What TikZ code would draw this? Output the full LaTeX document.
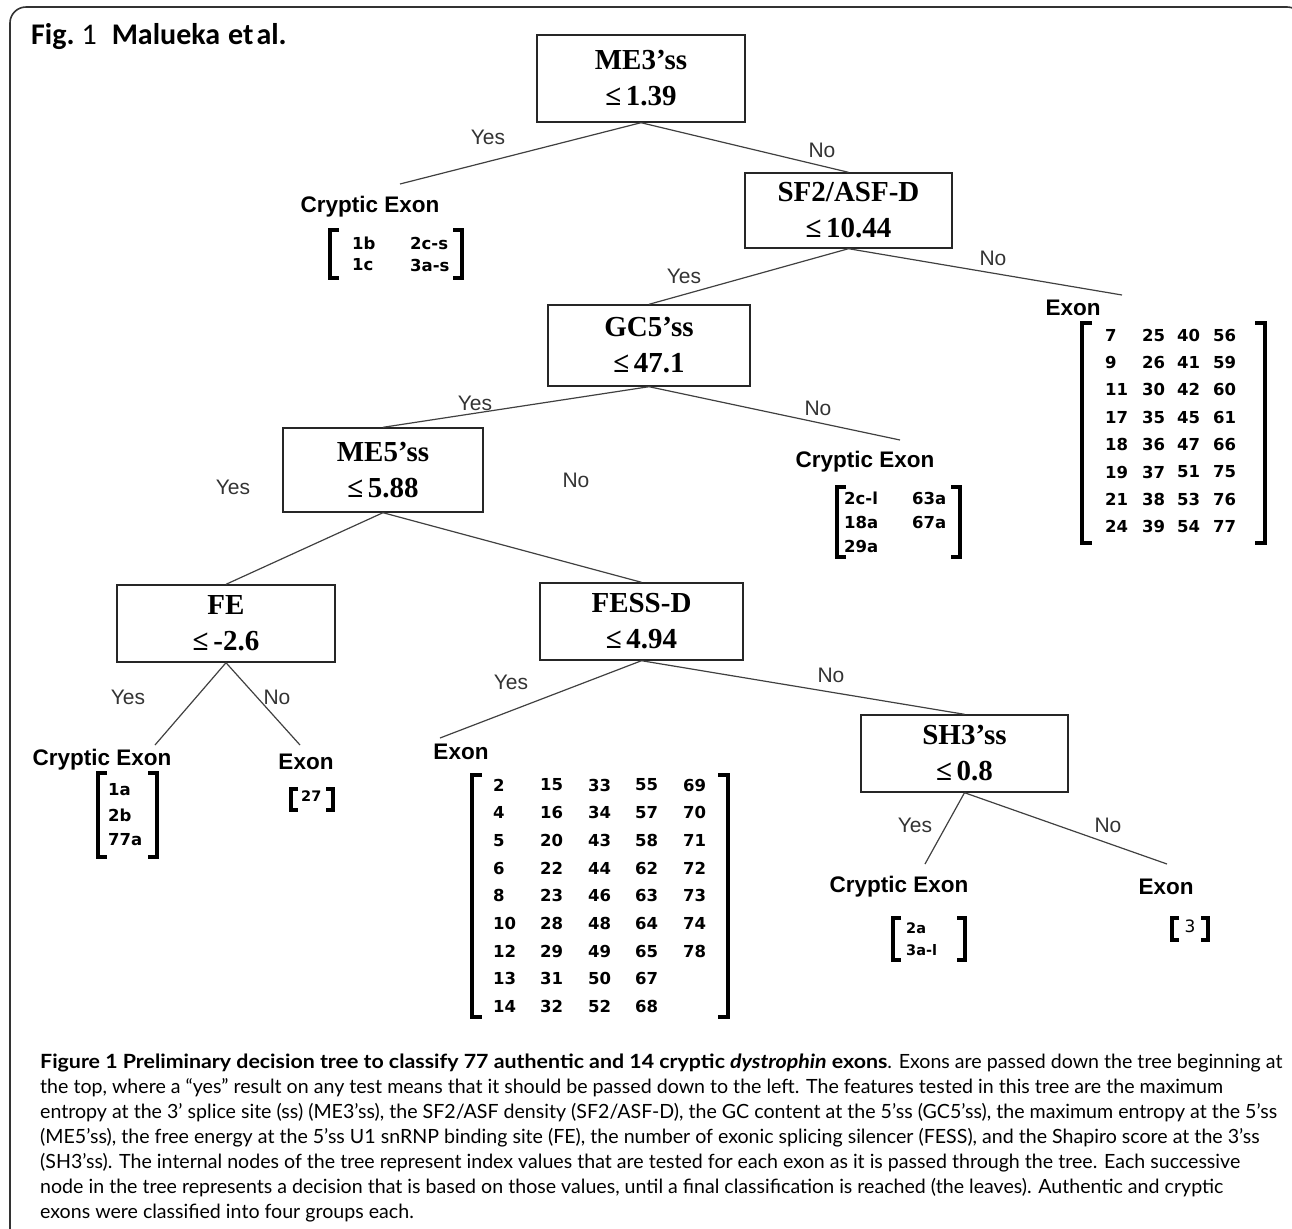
\documentclass[tikz,border=0pt]{standalone}
\usepackage{fontspec}
\usepackage{graphicx}
\setmainfont{Liberation Sans}
\newfontfamily\tnr{Liberation Serif}
\newfontfamily\numf{DejaVu Sans}
\newfontfamily\calib{Carlito}
\newfontfamily\capf{Lato}
\newcommand\mybrk[5]{% x1 y1 x2 y2 tick
  \draw[brk] (#1+#5,#2) -- (#1,#2) -- (#1,#4) -- (#1+#5,#4);
  \draw[brk] (#3-#5,#2) -- (#3,#2) -- (#3,#4) -- (#3-#5,#4);}
\tikzset{
  test/.style={draw=black!85, line width=1.4bp, inner sep=0pt, align=center,
    font=\tnr\bfseries\fontsize{29bp}{36bp}\selectfont},
  conn/.style={draw=black!75, line width=1.2bp},
  yn/.style={font=\fontsize{21bp}{25bp}\selectfont, text=black!80, inner sep=0pt},
  leaf/.style={font=\bfseries\fontsize{22.5bp}{27bp}\selectfont, inner sep=0pt},
  num/.style={font=\numf\bfseries\fontsize{16.5bp}{20bp}\selectfont, inner sep=0pt, anchor=west},
  smallnum/.style={font=\numf\bfseries\fontsize{14.5bp}{18bp}\selectfont, inner sep=0pt, anchor=west},
  brk/.style={line width=3.5bp, line cap=butt, line join=miter},
  capline/.style={anchor=base west, inner sep=0pt, font=\capf\fontsize{19.6bp}{22bp}\selectfont},
  frame/.style={draw=black!80, line width=1.6bp}
}
\begin{document}
\begin{tikzpicture}[x=1bp,y=-1bp]
\useasboundingbox (0,0) rectangle (1292,1229);
\begin{scope}
\clip (0,0) rectangle (1292,1229);
\draw[frame, rounded corners=16bp] (10,7) rectangle (1303,1260);
\end{scope}

% header
\node[anchor=west, inner sep=0pt, font=\calib\fontsize{30bp}{33bp}\selectfont] (hdr) at (31,37)
  {\textbf{Fig.}\hspace{7bp}1\hspace{15bp}\textbf{Malueka}\hspace{8bp}\textbf{et\hspace{3bp}al.}};

% test nodes
\node[test, minimum width=208bp, minimum height=87bp] (me3) at (641,78.5) {ME3’ss\\≤\,1.39};
\node[test, minimum width=207bp, minimum height=75bp] (sf2) at (848.5,210.5) {SF2/ASF-D\\≤\,10.44};
\node[test, minimum width=202bp, minimum height=81bp] (gc5) at (649,345.5) {GC5’ss\\≤\,47.1};
\node[test, minimum width=200bp, minimum height=84bp] (me5) at (383,470) {ME5’ss\\≤\,5.88};
\node[test, minimum width=218bp, minimum height=77bp] (fe) at (226,623.5) {FE\\≤\,-2.6};
\node[test, minimum width=203bp, minimum height=77bp] (fess) at (641.5,621.5) {FESS-D\\≤\,4.94};
\node[test, minimum width=207bp, minimum height=77bp] (sh3) at (964.5,753.5) {SH3’ss\\≤\,0.8};

% free ends
\coordinate (e1) at (400,184);
\coordinate (e2) at (1122,295);
\coordinate (e3) at (900,440);
\coordinate (e4) at (155,745);
\coordinate (e5) at (300,745);
\coordinate (e6) at (440,738);
\coordinate (e7) at (925,864);
\coordinate (e8) at (1167,864);

% connectors
\draw[conn] (me3.south) -- (e1);
\draw[conn] (me3.south) -- (sf2.north);
\draw[conn] (sf2.south) -- (gc5.north);
\draw[conn] (sf2.south) -- (e2);
\draw[conn] (gc5.south) -- (me5.north);
\draw[conn] (gc5.south) -- (e3);
\draw[conn] (me5.south) -- (fe.north);
\draw[conn] (me5.south) -- (fess.north);
\draw[conn] (fe.south) -- (e4);
\draw[conn] (fe.south) -- (e5);
\draw[conn] (fess.south) -- (e6);
\draw[conn] (fess.south) -- (sh3.north);
\draw[conn] (sh3.south) -- (e7);
\draw[conn] (sh3.south) -- (e8);

% yes/no labels
\node[yn] (y1) at (488,137) {Yes};
\node[yn] (n1) at (822,150) {No};
\node[yn] (y2) at (684,276) {Yes};
\node[yn] (n2) at (993,258) {No};
\node[yn] (y3) at (475,403) {Yes};
\node[yn] (n3) at (818,408) {No};
\node[yn] (y4) at (233,487) {Yes};
\node[yn] (n4) at (576,480) {No};
\node[yn] (y5) at (128,697) {Yes};
\node[yn] (n5) at (277,697) {No};
\node[yn] (y6) at (511,682) {Yes};
\node[yn] (n6) at (831,675) {No};
\node[yn] (y7) at (915,825) {Yes};
\node[yn] (n7) at (1108,825) {No};

% leaf 1: ME3 yes
\node[leaf] (l1) at (370,207) {Cryptic Exon};
\mybrk{330}{230}{462}{278}{9}
\node[num] (l1a) at (352,243) {1b};
\node[num] (l1b) at (410,243) {2c-s};
\node[num] (l1c) at (352,265) {1c};
\node[num] (l1d) at (410,265) {3a-s};

% leaf 2: SF2 no
\node[leaf] (l2) at (1073,308) {Exon};
\mybrk{1082}{323}{1265}{543}{10}
\foreach \row [count=\i from 0] in {{7,25,40,56},{9,26,41,59},{11,30,42,60},{17,35,45,61},{18,36,47,66},{19,37,51,75},{21,38,53,76},{24,39,54,77}} {
  \foreach \v [count=\j from 0] in \row {
    \pgfmathsetmacro{\xx}{{1105,1142,1177,1213}[\j]}
    \node[num] (l2r\i c\j) at (\xx,335+27.4*\i) {\v};
  }
}

% leaf 3: GC5 no
\node[leaf] (l3) at (865,462) {Cryptic Exon};
\mybrk{837}{487}{960}{557}{9}
\node[num] (l3a) at (844,498) {2c-l};
\node[num] (l3b) at (912,498) {63a};
\node[num] (l3c) at (844,522) {18a};
\node[num] (l3d) at (912,522) {67a};
\node[num] (l3e) at (844,546) {29a};

% leaf 4: FE yes
\node[leaf] (l4) at (102,760) {Cryptic Exon};
\mybrk{98}{773}{157}{857}{9}
\node[num] (l4a) at (108,790) {1a};
\node[num] (l4b) at (108,815) {2b};
\node[num] (l4c) at (108,840) {77a};

% leaf 5: FE no
\node[leaf] (l5) at (306,762) {Exon};
\mybrk{291}{789}{333}{810}{7}
\node[smallnum] (l5a) at (301,796) {27};

% leaf 6: FESS yes
\node[leaf] (l6) at (461,752) {Exon};
\mybrk{472}{775}{728}{1017}{10}
\foreach \row [count=\i from 0] in {{2,15,33,55,69},{4,16,34,57,70},{5,20,43,58,71},{6,22,44,62,72},{8,23,46,63,73},{10,28,48,64,74},{12,29,49,65,78},{13,31,50,67},{14,32,52,68}} {
  \foreach \v [count=\j from 0] in \row {
    \pgfmathsetmacro{\xx}{{493,540,588,635,683}[\j]}
    \node[num] (l6r\i c\j) at (\xx,785+27.7*\i) {\v};
  }
}

% leaf 7: SH3 yes
\node[leaf] (l7) at (899,887) {Cryptic Exon};
\mybrk{893}{918}{965}{960}{8}
\node[smallnum] (l7a) at (906,928) {2a};
\node[smallnum] (l7b) at (906,950) {3a-l};

% leaf 8: SH3 no
\node[leaf] (l8) at (1166,887) {Exon};
\mybrk{1172}{918}{1208}{940}{7}
\node[inner sep=0pt, font=\numf\fontsize{17bp}{20bp}\selectfont] (l8a) at (1190,926) {3};

% caption
\node[capline] (cap1) at (40,1068) {\scalebox{1.09}[1]{\textbf{Figure 1 Preliminary decision tree to classify 77 authentic and 14 cryptic \textit{dystrophin} exons}}. Exons are passed down the tree beginning at};
\node[capline] (cap2) at (40,1093) {the top, where a “yes” result on any test means that it should be passed down to the left. The features tested in this tree are the maximum};
\node[capline] (cap3) at (40,1118) {entropy at the 3’ splice site (ss) (ME3’ss), the SF2/ASF density (SF2/ASF-D), the GC content at the 5’ss (GC5’ss), the maximum entropy at the 5’ss};
\node[capline] (cap4) at (40,1143) {(ME5’ss), the free energy at the 5’ss U1 snRNP binding site (FE), the number of exonic splicing silencer (FESS), and the Shapiro score at the 3’ss};
\node[capline] (cap5) at (40,1168) {(SH3’ss). The internal nodes of the tree represent index values that are tested for each exon as it is passed through the tree. Each successive};
\node[capline] (cap6) at (40,1193) {node in the tree represents a decision that is based on those values, until a final classification is reached (the leaves). Authentic and cryptic};
\node[capline] (cap7) at (40,1218) {exons were classified into four groups each.};
\end{tikzpicture}
\end{document}
